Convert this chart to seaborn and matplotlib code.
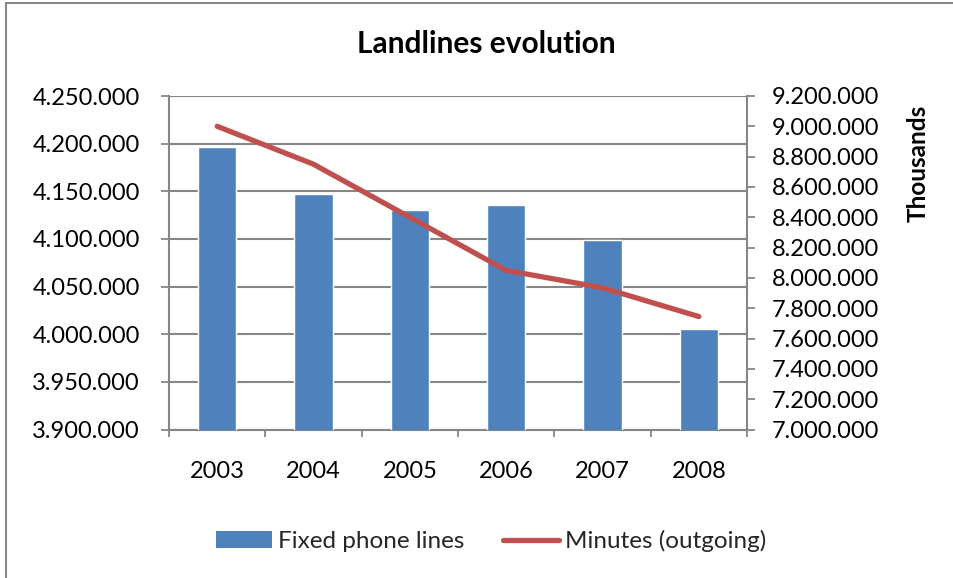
import numpy as np
import pandas as pd
import matplotlib
matplotlib.use("Agg")
import matplotlib.pyplot as plt
from matplotlib.patches import Patch, Rectangle
from matplotlib.lines import Line2D
from matplotlib.ticker import FuncFormatter, FixedLocator, MultipleLocator
import seaborn as sns

# Data
years = ["2003", "2004", "2005", "2006", "2007", "2008"]
fixed_lines = [4197000, 4147000, 4130000, 4136000, 4099000, 4005000]
minutes_thousands = [9000000, 8750000, 8400000, 8050000, 7935000, 7745000]

bar_label = "Fixed phone lines"
line_label = "Minutes (outgoing)"
title = "Landlines evolution"
right_axis_label = "Thousands"

BAR_COLOR = "#4F81BD"
LINE_COLOR = "#C0504D"
GRID_COLOR = "#868686"
TEXT_COLOR = "#000000"
TICK_SIZE = 17

sns.set_style("white")
plt.rcParams["font.family"] = ["Lato", "DejaVu Sans"]

df = pd.DataFrame({"year": years, "lines": fixed_lines, "minutes": minutes_thousands})

fig = plt.figure(figsize=(9.54, 5.78), dpi=100)
ax = fig.add_axes([169 / 954, 1 - 429.5 / 578, (747 - 169) / 954, (429.5 - 96) / 578])

sns.barplot(data=df, x="year", y="lines", color=BAR_COLOR, width=0.4,
            saturation=1, ax=ax, zorder=3)
ax.set_ylim(3900000, 4250000)
ax.set_xlim(-0.5, len(years) - 0.5)
ax.yaxis.set_major_locator(MultipleLocator(50000))

dotted = FuncFormatter(lambda v, _: f"{int(round(v)):,}".replace(",", "."))
ax.yaxis.set_major_formatter(dotted)
ax.grid(axis="y", color=GRID_COLOR, linewidth=1.5, zorder=0)
ax.grid(axis="x", visible=False)
ax.set_axisbelow(True)
ax.set_xlabel("")
ax.set_ylabel("")

for s in ["left", "bottom"]:
    ax.spines[s].set_color(GRID_COLOR)
    ax.spines[s].set_linewidth(1.5)
ax.spines["top"].set_visible(False)
ax.spines["right"].set_visible(False)

ax.tick_params(axis="y", which="major", direction="out", length=6, width=1.3,
               color=GRID_COLOR, pad=15, labelsize=TICK_SIZE, labelcolor=TEXT_COLOR)
ax.tick_params(axis="x", which="major", length=0, pad=23, labelsize=TICK_SIZE,
               labelcolor=TEXT_COLOR)
ax.xaxis.set_minor_locator(FixedLocator(np.arange(-0.5, len(years), 1.0)))
ax.tick_params(axis="x", which="minor", direction="out", length=5, width=1.3,
               color=GRID_COLOR, bottom=True)

# Secondary axis: outgoing minutes
ax2 = ax.twinx()
sns.lineplot(x=np.arange(len(years)), y=minutes_thousands, color=LINE_COLOR,
             linewidth=3.8, ax=ax2, solid_capstyle="round", solid_joinstyle="round",
             zorder=4)
ax2.set_ylim(7000000, 9200000)
ax2.yaxis.set_major_locator(MultipleLocator(200000))
ax2.yaxis.set_major_formatter(dotted)
ax2.grid(False)
for s in ["left", "top", "bottom"]:
    ax2.spines[s].set_visible(False)
ax2.spines["right"].set_color(GRID_COLOR)
ax2.spines["right"].set_linewidth(1.5)
ax2.tick_params(axis="y", which="major", direction="out", length=6, width=1.3,
                color=GRID_COLOR, pad=12, labelsize=TICK_SIZE, labelcolor=TEXT_COLOR)
ax2.set_ylabel("")

fig.text(918 / 954, 1 - 163 / 578, right_axis_label, rotation=90, ha="center",
         va="center", fontsize=17.5, fontweight="bold", color=TEXT_COLOR)

fig.text(486 / 954, 1 - 44 / 578, title, ha="center", va="center",
         fontsize=21.5, fontweight="bold", color=TEXT_COLOR)

handles = [
    Patch(facecolor=BAR_COLOR, edgecolor="none", label=bar_label),
    Line2D([0], [0], color=LINE_COLOR, linewidth=3.8, solid_capstyle="round",
           label=line_label),
]
fig.legend(handles=handles, loc="center", bbox_to_anchor=(491 / 954, 1 - 541 / 578),
           ncol=2, frameon=False, fontsize=17.5, handlelength=2.3, handleheight=0.7,
           handletextpad=0.25, columnspacing=1.6)

# Outer chart border
fig.add_artist(Rectangle((6.5 / 954, -0.1), 1.2, 1 - 3 / 578 + 0.1,
                         transform=fig.transFigure, fill=False,
                         edgecolor=GRID_COLOR, linewidth=1.5))

fig.savefig("out.png", dpi=100)
